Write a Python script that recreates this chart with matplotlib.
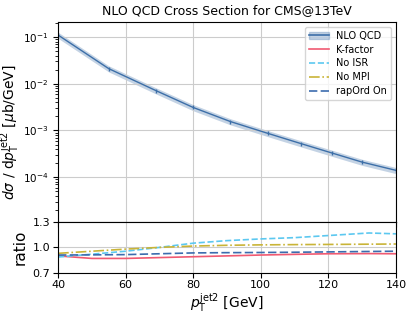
import numpy as np
import matplotlib
matplotlib.use("Agg")
import matplotlib.pyplot as plt
from matplotlib.patches import Patch
from matplotlib.lines import Line2D

# NLO QCD cross section
pt = [40, 55, 69, 80, 91, 102, 112, 121, 130, 140]
xsec = [0.11, 0.021, 0.0071, 0.0031, 0.00155, 8.7e-4, 5.2e-4, 3.3e-4, 2.1e-4, 1.4e-4]
rel_unc = 0.15

# ratio curves
pt_ratio = [40, 50, 60, 70, 80, 90, 100, 110, 120, 132, 140]
kfactor = [0.90, 0.87, 0.87, 0.88, 0.89, 0.90, 0.91, 0.918, 0.925, 0.927, 0.925]
no_isr = [0.887, 0.92, 0.955, 1.00, 1.05, 1.08, 1.10, 1.115, 1.14, 1.17, 1.16]
no_mpi = [0.93, 0.955, 0.98, 1.00, 1.016, 1.025, 1.03, 1.033, 1.035, 1.038, 1.04]
rapord = [0.91, 0.912, 0.915, 0.925, 0.935, 0.938, 0.94, 0.943, 0.947, 0.952, 0.955]

c_nlo = "#3d6fa8"
c_k = "#f05a72"
c_isr = "#5cc8f0"
c_mpi = "#c9b437"
c_rap = "#3c6cae"

fig = plt.figure(figsize=(4.12, 3.18), dpi=100)
ax = fig.add_axes([0.141, 0.302, 0.820, 0.629])
rax = fig.add_axes([0.141, 0.142, 0.820, 0.160], sharex=ax)

pt = np.array(pt)
xsec = np.array(xsec)
ax.fill_between(pt, xsec * (1 - rel_unc), xsec * (1 + rel_unc), color=c_nlo, alpha=0.3, lw=0)
ax.plot(pt, xsec, color=c_nlo, lw=1.0, marker="|", ms=3)
ax.set_yscale("log")
ax.set_ylim(1.1e-5, 0.21)
ax.set_xlim(40, 140)
ax.grid(True, color="#cccccc")
ax.tick_params(labelbottom=False, labelsize=7.5)
ax.set_ylabel(r"$d\sigma$ / d$p_{\mathrm{T}}^{\mathrm{jet2}}$ [$\mu$b/GeV]", fontsize=10)
ax.yaxis.set_label_coords(-0.107, 0.45)
ax.set_title("NLO QCD Cross Section for CMS@13TeV", fontsize=9)

handles = [
    (Patch(color=c_nlo, alpha=0.3), Line2D([], [], color=c_nlo, lw=1.2)),
    Line2D([], [], color=c_k, lw=1.2),
    Line2D([], [], color=c_isr, lw=1.2, ls="--"),
    Line2D([], [], color=c_mpi, lw=1.2, ls="-."),
    Line2D([], [], color=c_rap, lw=1.2, ls=(0, (5, 2))),
]
labels = ["NLO QCD", "K-factor", "No ISR", "No MPI", "rapOrd On"]
ax.legend(handles, labels, loc="upper right", fontsize=7, labelspacing=0.4)

rax.plot(pt_ratio, kfactor, color=c_k, lw=1.2)
rax.plot(pt_ratio, no_isr, color=c_isr, lw=1.2, ls="--")
rax.plot(pt_ratio, no_mpi, color=c_mpi, lw=1.2, ls="-.")
rax.plot(pt_ratio, rapord, color=c_rap, lw=1.2, ls=(0, (5, 2)))
rax.set_ylim(0.7, 1.3)
rax.set_yticks([0.7, 1.0, 1.3])
rax.grid(True, color="#cccccc")
rax.set_xticks([40, 60, 80, 100, 120, 140])
rax.tick_params(labelsize=8, pad=2)
rax.set_ylabel("ratio", fontsize=11, labelpad=4)
rax.set_xlabel(r"$p_{\mathrm{T}}^{\mathrm{jet2}}$ [GeV]", fontsize=10, labelpad=1)

fig.savefig("out.png", dpi=100)
